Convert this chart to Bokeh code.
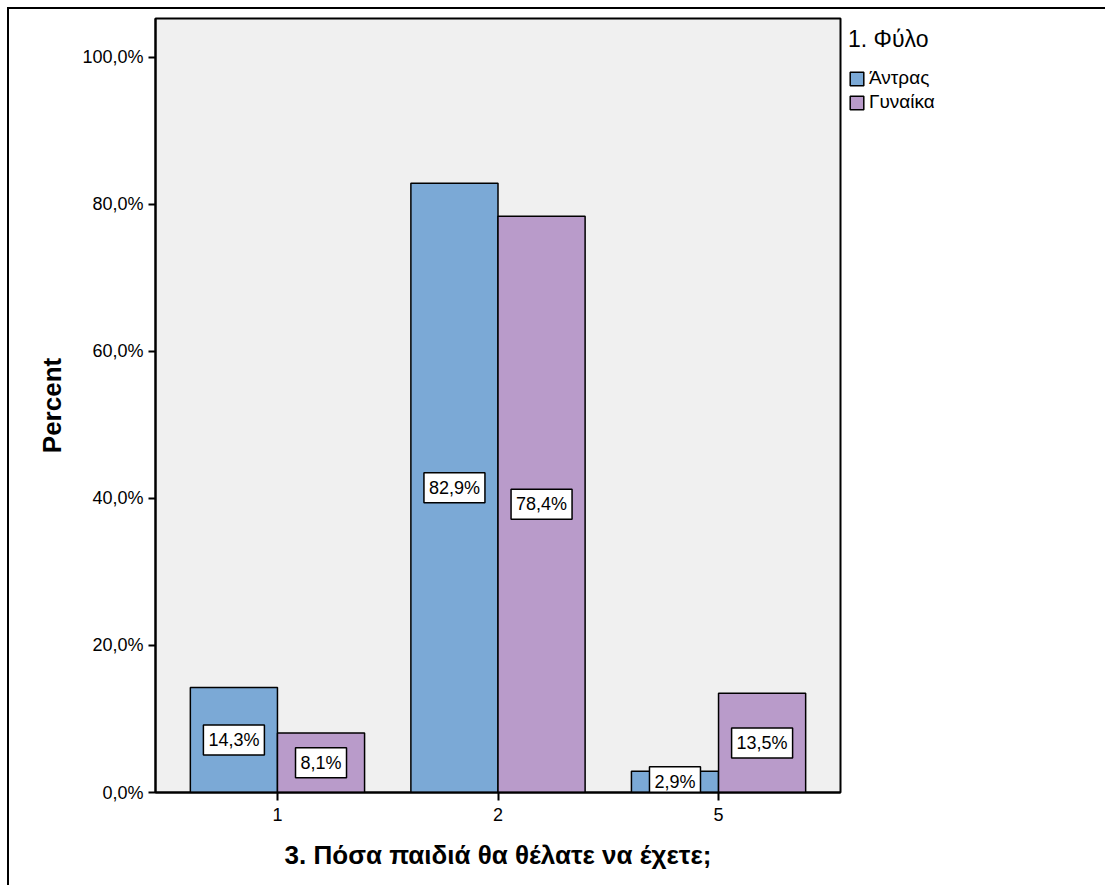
import numpy as np
from bokeh.plotting import figure
from bokeh.models import (ColumnDataSource, Range1d, FixedTicker, CustomJSTickFormatter,
                          Legend, LegendItem)
from bokeh.core.properties import value
from bokeh.embed import file_html
from bokeh.resources import INLINE

categories = ["1", "2", "5"]
men = [14.3, 82.9, 2.9]
women = [8.1, 78.4, 13.5]
series_names = ["Άντρας", "Γυναίκα"]
colors = ["#7BA9D6", "#B99BCA"]
y_ticks = [0, 20, 40, 60, 80, 100]

FONT = "Liberation Sans"
bar_w = 0.395

idx = np.arange(len(categories))

def fmt(v):
    return f"{v:.1f}".replace(".", ",") + "%"

def make_src(vals, offset):
    labs = [fmt(v) for v in vals]
    return ColumnDataSource(dict(x=idx + offset, top=vals, mid=[v / 2 for v in vals],
                                 lab=labs, bw=[10 * len(s) + 11 for s in labs]))

src_m = make_src(men, -bar_w / 2)
src_w = make_src(women, bar_w / 2)

p = figure(frame_width=685, frame_height=774, output_backend="svg", toolbar_location=None,
           x_range=Range1d(-0.553, 2.553), y_range=Range1d(0, 105.3),
           min_border_left=146, min_border_right=263, min_border_top=9, min_border_bottom=93,
           styles={"border-left": "2px solid black", "border-top": "2px solid black",
                   "margin-left": "7px", "margin-top": "7px"})

p.background_fill_color = "#F0F0F0"
p.border_fill_color = "white"
p.outline_line_color = "black"
p.outline_line_width = 2
p.grid.visible = False

r1 = p.vbar(x="x", top="top", width=bar_w, source=src_m, fill_color=colors[0],
            line_color="black", line_width=1.5)
r2 = p.vbar(x="x", top="top", width=bar_w, source=src_w, fill_color=colors[1],
            line_color="black", line_width=1.5)

for s in (src_m, src_w):
    p.rect(x="x", y="mid", width="bw", height=30, width_units="screen", height_units="screen",
           source=s, fill_color="white", line_color="black", line_width=1.5)
    p.text(x="x", y="mid", text="lab", source=s, text_align="center", text_baseline="middle",
           text_font=value(FONT), text_font_size="18px", text_color="black")

# Axes
p.yaxis.ticker = FixedTicker(ticks=y_ticks)
p.yaxis.formatter = CustomJSTickFormatter(code="return tick.toFixed(1).replace('.', ',') + '%';")
p.yaxis.minor_tick_line_color = None
p.yaxis.major_tick_in = 0
p.yaxis.major_tick_out = 7
p.yaxis.major_tick_line_width = 2
p.yaxis.axis_line_width = 2
p.yaxis.major_label_text_font = FONT
p.yaxis.major_label_text_font_size = "18px"
p.yaxis.major_label_text_color = "black"
p.yaxis.major_label_standoff = 5
p.yaxis.axis_label = "Percent"
p.yaxis.axis_label_text_font = FONT
p.yaxis.axis_label_text_font_size = "26px"
p.yaxis.axis_label_text_font_style = "bold"
p.yaxis.axis_label_text_color = "black"
p.yaxis.axis_label_standoff = 12

p.xaxis.ticker = FixedTicker(ticks=list(idx))
p.xaxis.formatter = CustomJSTickFormatter(args=dict(labels=categories),
                                          code="return labels[Math.round(tick)];")
p.xaxis.minor_tick_line_color = None
p.xaxis.major_tick_in = 0
p.xaxis.major_tick_out = 8
p.xaxis.major_tick_line_width = 2
p.xaxis.axis_line_width = 2
p.xaxis.major_label_text_font = FONT
p.xaxis.major_label_text_font_size = "18px"
p.xaxis.major_label_text_color = "black"
p.xaxis.major_label_standoff = 7
p.xaxis.axis_label = "3. Πόσα παιδιά θα θέλατε να έχετε;"
p.xaxis.axis_label_text_font = FONT
p.xaxis.axis_label_text_font_size = "26px"
p.xaxis.axis_label_text_font_style = "bold"
p.xaxis.axis_label_text_color = "black"
p.xaxis.axis_label_standoff = 16

legend = Legend(items=[LegendItem(label=series_names[0], renderers=[r1]),
                       LegendItem(label=series_names[1], renderers=[r2])],
                title="1. Φύλο", location="top_left")
legend.title_text_font = FONT
legend.title_text_font_size = "23px"
legend.title_text_font_style = "normal"
legend.title_text_color = "black"
legend.title_standoff = 14
legend.label_text_font = FONT
legend.label_text_font_size = "19px"
legend.label_text_color = "black"
legend.glyph_width = 17
legend.glyph_height = 17
legend.label_standoff = 4
legend.spacing = 2
legend.padding = 0
legend.margin = 8
legend.border_line_color = None
legend.background_fill_color = "white"
p.add_layout(legend, "right")

open("out.html", "w").write(file_html(p, INLINE))
